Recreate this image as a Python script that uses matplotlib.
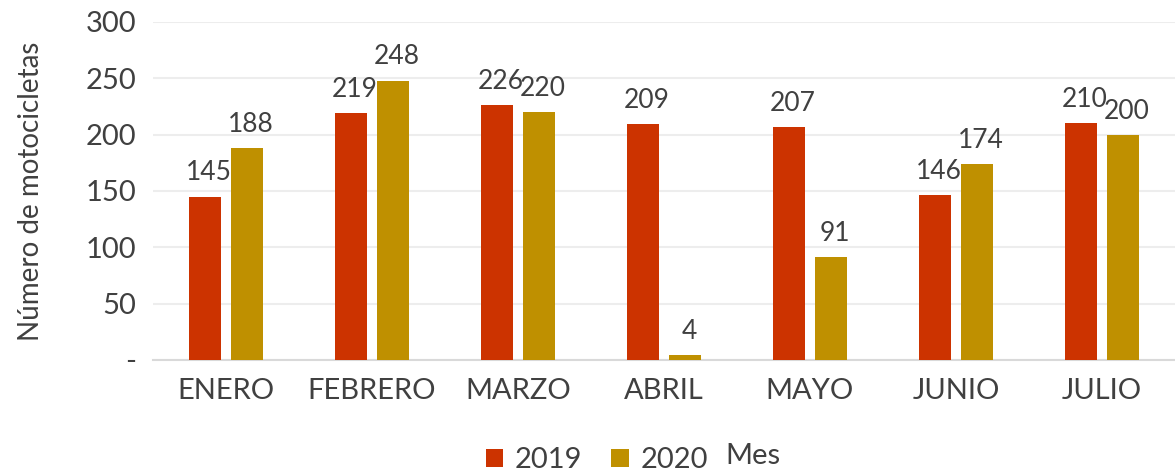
import numpy as np
from matplotlib import pyplot as plt

meses = ["ENERO", "FEBRERO", "MARZO", "ABRIL", "MAYO", "JUNIO", "JULIO"]
v2019 = [145, 219, 226, 209, 207, 146, 210]
v2020 = [188, 248, 220, 4, 91, 174, 200]

plt.rcParams['font.family'] = ['Lato', 'DejaVu Sans']
txt = '#404040'

fig = plt.figure(figsize=(11.75, 4.73), dpi=100)
ax = fig.add_axes([0.130, 0.239, 0.870, 0.7146])

x = np.arange(len(meses))
w = 0.22
off = 0.144
b1 = ax.bar(x - off, v2019, w, color='#CC3300', label='2019', zorder=3)
b2 = ax.bar(x + off, v2020, w, color='#BF9000', label='2020', zorder=3)

for bars in (b1, b2):
    for r in bars:
        ax.annotate(f"{int(r.get_height())}",
                    (r.get_x() + r.get_width() / 2, r.get_height()),
                    xytext=(3, 8), textcoords='offset points',
                    ha='center', va='bottom', fontsize=19, color=txt)

ax.set_xlim(-0.5, len(meses) - 0.5)
ax.set_ylim(0, 300)
ax.set_yticks(range(0, 301, 50))
ax.set_yticklabels(['-'] + [str(v) for v in range(50, 301, 50)])
ax.set_xticks(x)
ax.set_xticklabels(meses)
ax.tick_params(axis='both', length=0, labelsize=21, labelcolor=txt)
ax.tick_params(axis='y', pad=12)
ax.tick_params(axis='x', pad=13)
ax.yaxis.grid(True, color='#EDEDED', linewidth=1.5, zorder=0)
for s in ['top', 'right', 'left']:
    ax.spines[s].set_visible(False)
ax.spines['bottom'].set_color('#D9D9D9')
ax.spines['bottom'].set_linewidth(1.5)

ax.set_ylabel('Número de motocicletas', fontsize=20, color=txt, labelpad=30)

fig.legend(handles=[b1, b2], loc='center', bbox_to_anchor=(0.508, 0.027),
           ncol=2, frameon=False, fontsize=21, handlelength=0.6,
           handleheight=0.6, handletextpad=0.4, columnspacing=1.0,
           labelcolor=txt)
fig.text(0.641, 0.035, 'Mes', fontsize=21, color=txt, ha='center', va='center')

fig.savefig('out.png', dpi=100)
